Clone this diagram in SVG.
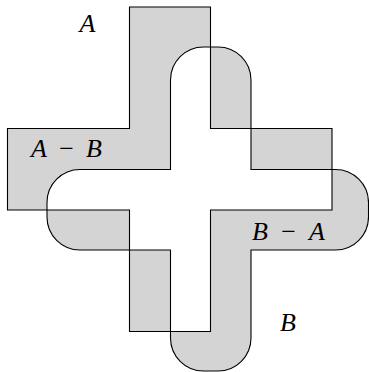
<svg xmlns="http://www.w3.org/2000/svg" width="369" height="372" viewBox="0 0 369 372">
<style>
.region{fill:#d4d4d4;fill-rule:evenodd;stroke:#000;stroke-width:1.1;stroke-linejoin:miter}
text{font-family:"Liberation Serif","Times New Roman",serif;font-size:26px;fill:#000}
.it{font-style:italic}
</style>
<rect width="369" height="372" fill="#fff"/>
<g id="regions">
<path class="region" d="M129.5,7 H210.5 V128.5 H332 V210 H210.5 V331.5 H129.5 V210 H7.5 V128.5 H129.5 Z M170.5,169.5 V80 A33,33 0 0 1 203.5,47 H218 A33,33 0 0 1 251,80 V169.5 H335.5 A33,33 0 0 1 368.5,202.5 V217 A33,33 0 0 1 335.5,250 H251 V338 A33,33 0 0 1 218,371 H203.5 A33,33 0 0 1 170.5,338 V250 H80 A33,33 0 0 1 47,217 V202.5 A33,33 0 0 1 80,169.5 Z"/>
</g>
<g id="labels">
<text id="label-A" class="it" x="87.5" y="32" text-anchor="middle">A</text>
<text id="label-AminusB" x="31" y="157" textLength="71" lengthAdjust="spacing"><tspan class="it">A</tspan> − <tspan class="it">B</tspan></text>
<text id="label-BminusA" x="252" y="240" textLength="73" lengthAdjust="spacing"><tspan class="it">B</tspan> − <tspan class="it">A</tspan></text>
<text id="label-B" class="it" x="288" y="331" text-anchor="middle">B</text>
</g>
</svg>
